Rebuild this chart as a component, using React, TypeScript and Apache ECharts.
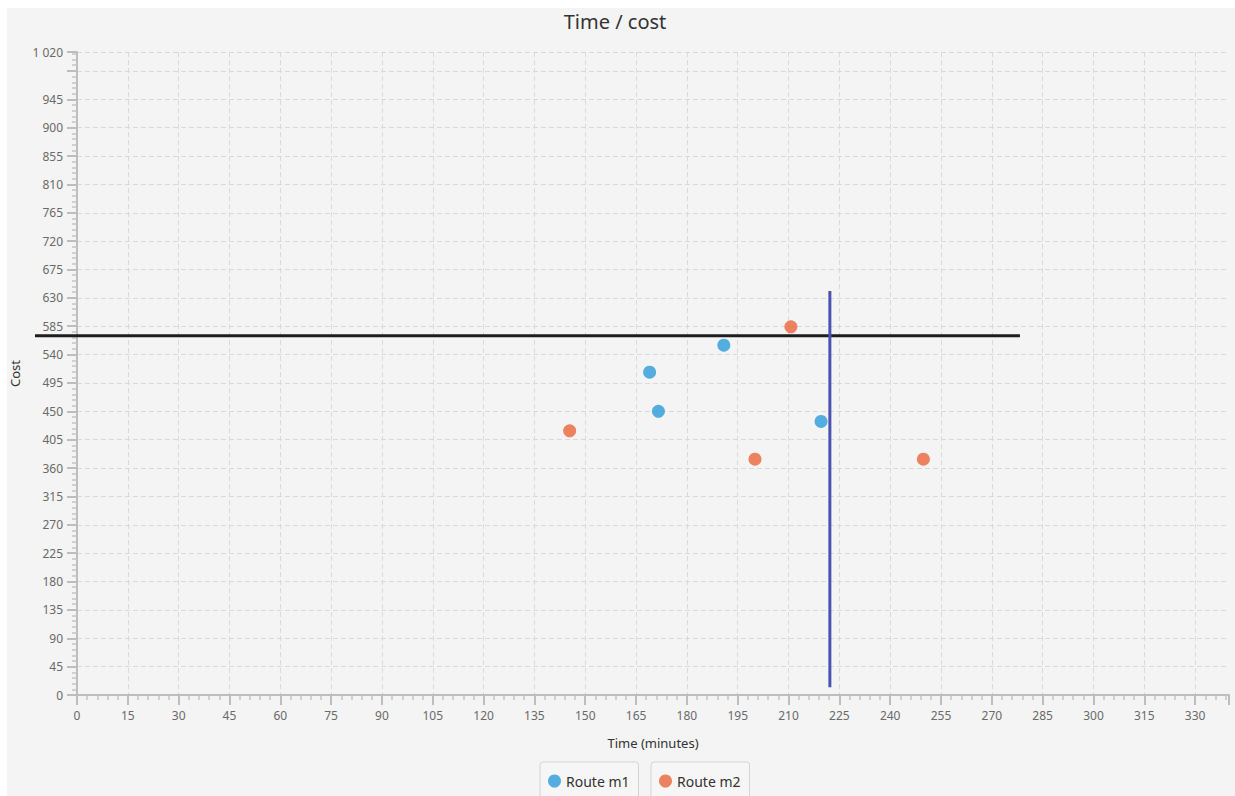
import React, { useEffect, useRef } from "react";
import * as echarts from "echarts";

// Data
const seriesNames = ["Route m1", "Route m2"];
const routeM1: [number, number][] = [
  [169.0, 512],
  [171.6, 450],
  [190.9, 555],
  [219.6, 434],
];
const routeM2: [number, number][] = [
  [145.4, 419],
  [200.1, 374],
  [210.7, 584],
  [249.8, 374],
];
// Reference lines (data values)
const budgetCost = 570;
const budgetTimeSpan = [-12.4, 278.3];
const timeLimit = 222.2;
const timeLimitCostSpan = [12.4, 641];

const xMin = 0;
const xMax = 340;
const xInterval = 15;
const yMin = 0;
const yMax = 1020;
const yInterval = 45;

const FONT = "Noto Sans";

function fmtNum(v: number): string {
  const s = String(Math.round(v));
  return s.replace(/\B(?=(\d{3})+(?!\d))/g, " ");
}

export default function App() {
  const ref = useRef<HTMLDivElement>(null);
  useEffect(() => {
    if (!ref.current) return;
    const chart = echarts.init(ref.current, undefined, { renderer: "svg" });
    const legendBase = {
      orient: "horizontal",
      icon: "circle",
      itemWidth: 13,
      itemHeight: 13,
      itemGap: 0,
      top: 754,
      padding: [12, 9, 12, 8],
      borderColor: "#d4d4d4",
      borderWidth: 1,
      borderRadius: 3,
      backgroundColor: "#f6f6f6",
      textStyle: { fontSize: 14, color: "#333333", fontFamily: FONT },
    };
    chart.setOption({
      animation: false,
      backgroundColor: "#f4f4f4",
      textStyle: { fontFamily: FONT },
      title: {
        text: "Time / cost",
        left: 608,
        top: 3,
        textAlign: "center",
        padding: 0,
        textStyle: {
          fontSize: 20,
          fontWeight: "normal",
          color: "#333333",
          fontFamily: FONT,
        },
      },
      legend: [
        { ...legendBase, data: [seriesNames[0]], left: 533 },
        { ...legendBase, data: [seriesNames[1]], left: 644 },
      ],
      grid: {
        left: 70,
        right: 6,
        top: 44,
        bottom: 101,
        containLabel: false,
        outerBoundsMode: "none",
      },
      xAxis: {
        type: "value",
        min: xMin,
        max: xMax,
        interval: xInterval,
        name: "Time (minutes)",
        nameLocation: "middle",
        nameGap: 41,
        nameTextStyle: { fontSize: 13, color: "#333333", fontFamily: FONT },
        axisLine: { show: true, lineStyle: { color: "#bdbdbd", width: 2 } },
        axisTick: { show: true, length: 10, lineStyle: { color: "#bdbdbd", width: 2 } },
        minorTick: { show: true, splitNumber: 5, length: 5, lineStyle: { color: "#c4c4c4", width: 1.5 } },
        axisLabel: {
          margin: 14,
          fontSize: 12,
          color: "#6a6a6a",
          fontFamily: FONT,
          formatter: (v: number) => (v % xInterval === 0 ? fmtNum(v) : ""),
        },
        splitLine: {
          show: true,
          showMaxLine: false,
          lineStyle: { color: "#dadada", type: [5, 3], width: 1 },
        },
      },
      yAxis: {
        type: "value",
        min: yMin,
        max: yMax,
        interval: yInterval,
        name: "Cost",
        nameLocation: "middle",
        nameGap: 52,
        nameTextStyle: { fontSize: 13, color: "#333333", fontFamily: FONT },
        axisLine: { show: true, lineStyle: { color: "#bdbdbd", width: 2 } },
        axisTick: { show: true, length: 10, lineStyle: { color: "#bdbdbd", width: 2 } },
        minorTick: { show: true, splitNumber: 5, length: 5, lineStyle: { color: "#c4c4c4", width: 1.5 } },
        axisLabel: {
          margin: 14,
          fontSize: 12,
          color: "#6a6a6a",
          fontFamily: FONT,
          formatter: (v: number) => (v === 990 ? "" : fmtNum(v)),
        },
        splitLine: {
          show: true,
          lineStyle: { color: "#dadada", type: [5, 3], width: 1 },
        },
      },
      series: [
        {
          name: seriesNames[0],
          type: "scatter",
          data: routeM1,
          symbol: "circle",
          symbolSize: 13,
          itemStyle: { color: "#2a9bd8" },
          z: 4,
        },
        {
          name: seriesNames[1],
          type: "scatter",
          data: routeM2,
          symbol: "circle",
          symbolSize: 13,
          itemStyle: { color: "#ea653a" },
          z: 4,
        },
        {
          name: "Time limit",
          type: "line",
          clip: false,
          silent: true,
          showSymbol: false,
          symbol: "none",
          data: timeLimitCostSpan.map((c) => [timeLimit, c]),
          lineStyle: { color: "#4a52b3", width: 3 },
          z: 3,
        },
      ],
    });
    // Budget line extends beyond the axis range; place it via the chart's own scales.
    const p1 = chart.convertToPixel({ xAxisIndex: 0, yAxisIndex: 0 }, [budgetTimeSpan[0], budgetCost]) as number[];
    const p2 = chart.convertToPixel({ xAxisIndex: 0, yAxisIndex: 0 }, [budgetTimeSpan[1], budgetCost]) as number[];
    if (p1 && p2) {
      chart.setOption({
        graphic: [
          {
            type: "line",
            silent: true,
            z: 2,
            shape: { x1: p1[0], y1: p1[1], x2: p2[0], y2: p2[1] },
            style: { stroke: "#1e1e1e", lineWidth: 3 },
          },
        ],
      });
    }
    return () => chart.dispose();
  }, []);
  return (
    <div
      ref={ref}
      style={{
        position: "fixed",
        left: 7,
        top: 8,
        width: 1228,
        height: 788,
        background: "#f4f4f4",
      }}
    />
  );
}
